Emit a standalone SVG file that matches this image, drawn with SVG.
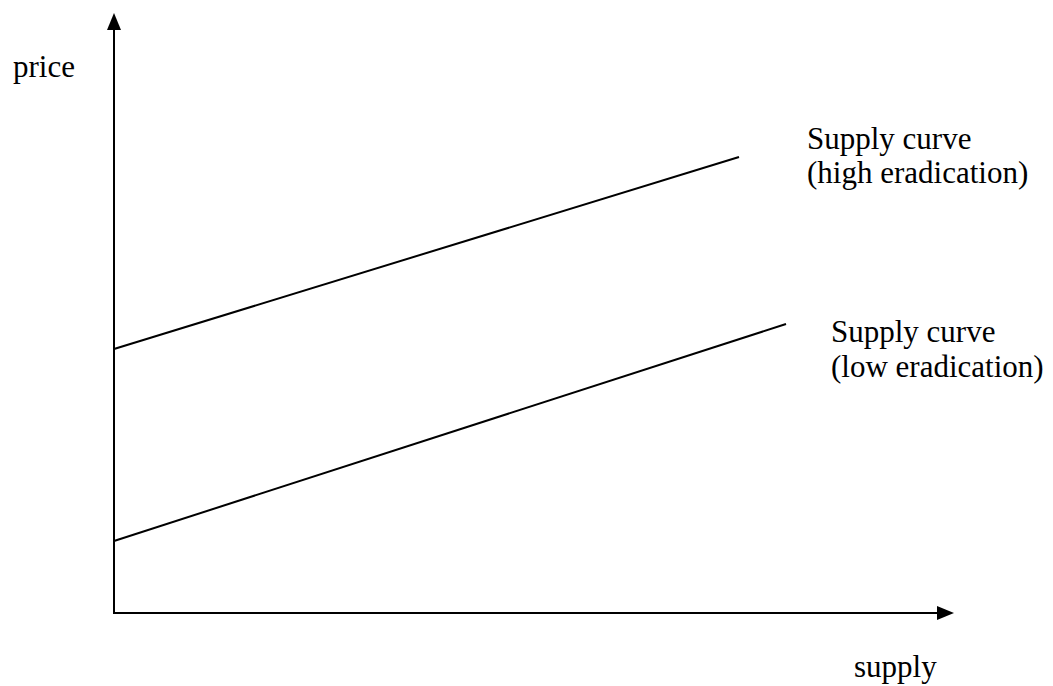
<svg xmlns="http://www.w3.org/2000/svg" width="1053" height="686" viewBox="0 0 1053 686">
<style>
.ax{stroke:#000;stroke-width:2;fill:none}
.ln{stroke:#000;stroke-width:2;fill:none}
.t{font-family:"Liberation Serif","Times New Roman",serif;font-size:31px;fill:#000}
</style>
<rect width="1053" height="686" fill="#fff"/>
<g id="connectors">
<line class="ax" x1="114" y1="613" x2="114" y2="26"/>
<polygon points="114,13 107,30 121,30" fill="#000"/>
<line class="ax" x1="113" y1="613" x2="941" y2="613"/>
<polygon points="954,613 937,606 937,620" fill="#000"/>
<line class="ln" x1="114" y1="349" x2="739" y2="157"/>
<line class="ln" x1="114" y1="541" x2="786" y2="324"/>
</g>
<g id="label-price"><text class="t" x="13" y="77">price</text></g>
<g id="label-supply"><text class="t" x="854" y="677">supply</text></g>
<g id="label-high"><text class="t" x="807" y="149">Supply curve</text><text class="t" x="807" y="183">(high eradication)</text></g>
<g id="label-low"><text class="t" x="831" y="342">Supply curve</text><text class="t" x="831" y="377">(low eradication)</text></g>
</svg>
